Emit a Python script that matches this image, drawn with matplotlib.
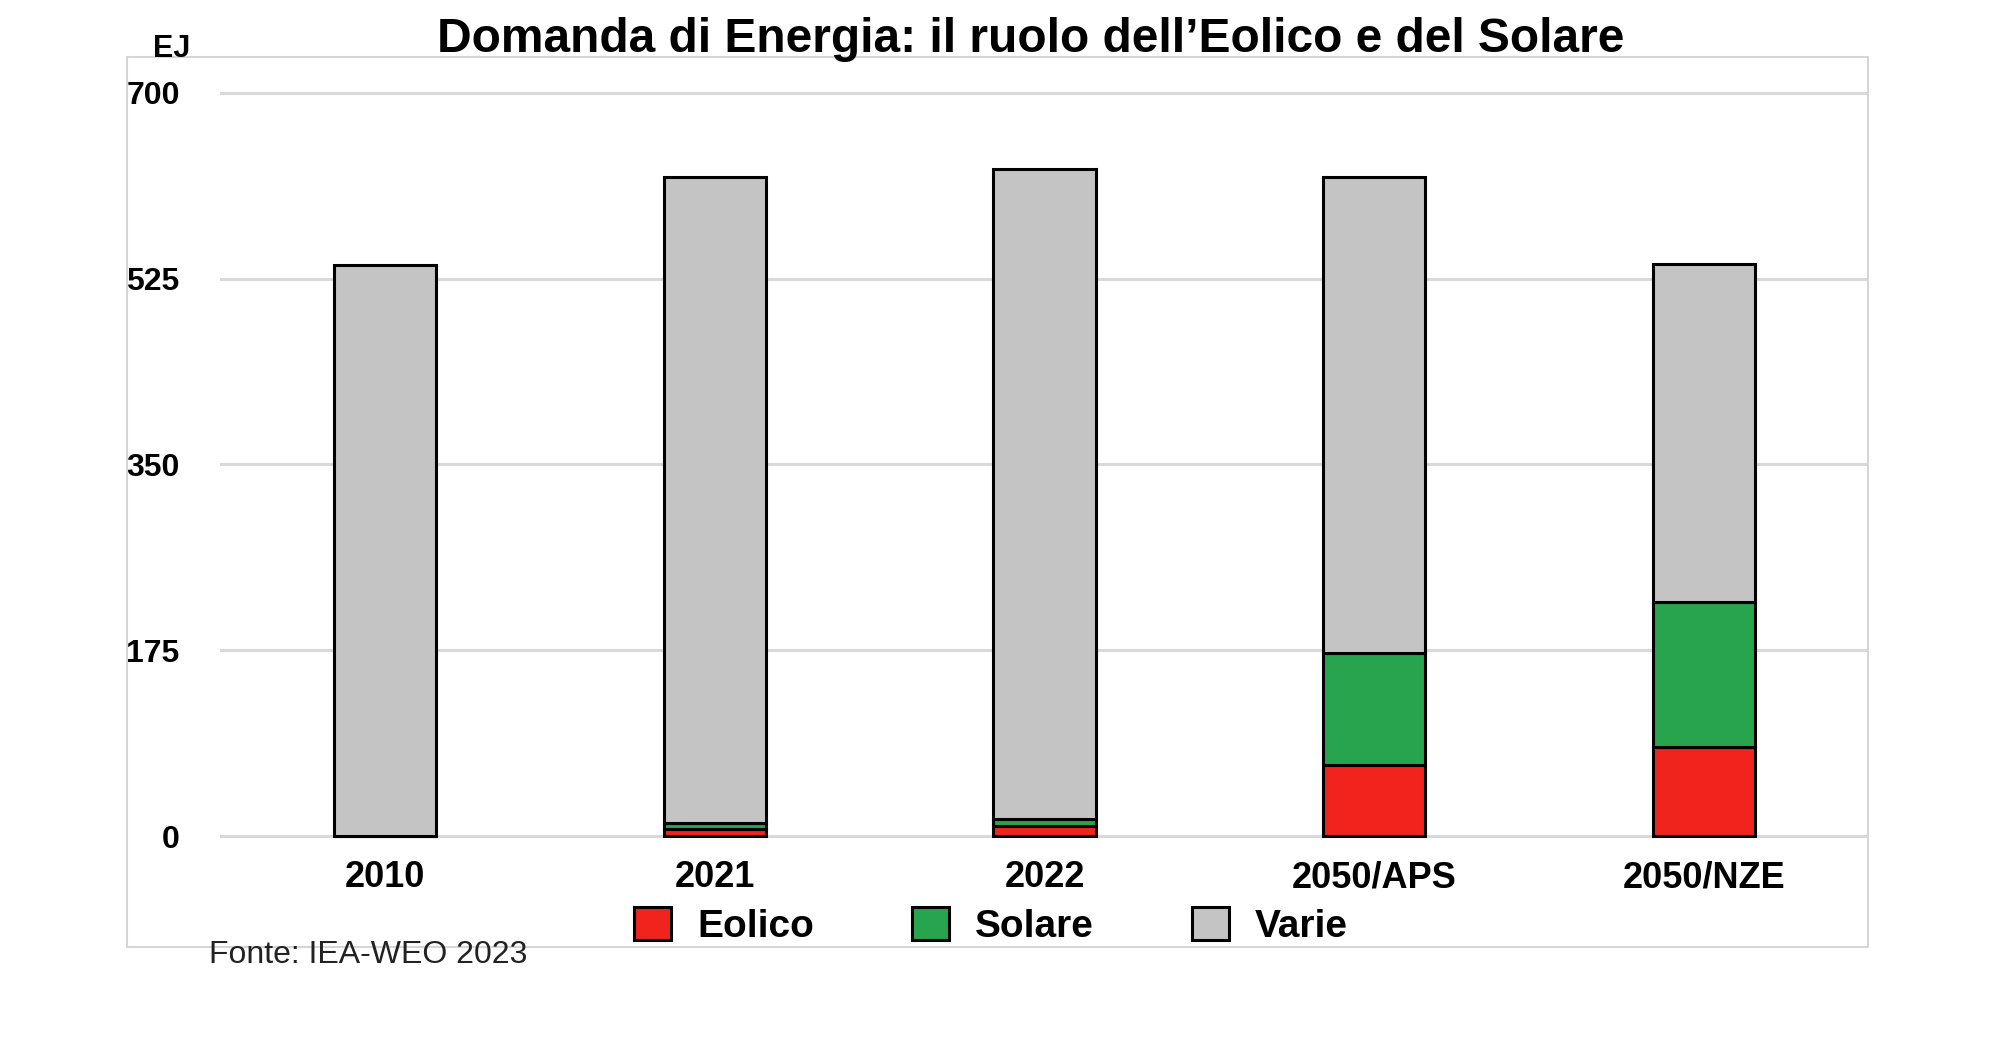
import matplotlib
matplotlib.use("Agg")
import matplotlib.pyplot as plt
from matplotlib.patches import Rectangle
import numpy as np

plt.rcParams['font.family'] = ['Liberation Sans', 'DejaVu Sans']

categories = ['2010', '2021', '2022', '2050/APS', '2050/NZE']
eolico = [0, 7, 9, 67, 84]
solare = [0, 5, 7, 105, 136]
varie = [538, 609, 612, 449, 319]
yticks = [0, 175, 350, 525, 700]

title = 'Domanda di Energia: il ruolo dell\u2019Eolico e del Solare'
unit = 'EJ'
source = 'Fonte: IEA-WEO 2023'

c_eolico = '#F1231D'
c_solare = '#28A44F'
c_varie = '#C4C4C4'

W, H = 1990, 1046
fig = plt.figure(figsize=(W / 100, H / 100), dpi=100)

# outer light frame
fig.patches.append(Rectangle((127 / W, 1 - 947 / H), (1868 - 127) / W, (947 - 57) / H,
                             transform=fig.transFigure, fill=False,
                             edgecolor='#d6d6d6', linewidth=1.5, zorder=0))

ax = fig.add_axes([220 / W, (H - 839.2) / H, 1649 / W, (839.2 - 89.8) / H])
ax.set_facecolor('none')

x = np.arange(len(categories))
bw = 0.31
e = np.array(eolico)
s = np.array(solare)
v = np.array(varie)
lw = 2.2
ax.bar(x, e, bw, color=c_eolico, edgecolor='black', linewidth=lw, label='Eolico', zorder=3)
ax.bar(x, s, bw, bottom=e, color=c_solare, edgecolor='black', linewidth=lw, label='Solare', zorder=3)
ax.bar(x, v, bw, bottom=e + s, color=c_varie, edgecolor='black', linewidth=lw, label='Varie', zorder=3)

ax.set_xlim(-0.5, 4.5)
ax.set_ylim(-3, 703)
ax.set_yticks(yticks)
ax.set_yticklabels([str(t) for t in yticks], fontsize=23, fontweight='bold')
ax.set_xticks(x)
ax.set_xticklabels(categories, fontsize=26, fontweight='bold')
ax.tick_params(axis='y', length=0, pad=29)
ax.tick_params(axis='x', length=0, pad=15)
ax.yaxis.grid(True, color='#d9d9d9', linewidth=2.2, zorder=0)
ax.set_axisbelow(True)
for sp in ax.spines.values():
    sp.set_visible(False)

fig.text(1031 / W, 1 - 52 / H, title, ha='center', va='baseline',
         fontsize=34.5, fontweight='bold', color='black')
fig.text(172 / W, 1 - 57 / H, unit, ha='center', va='baseline',
         fontsize=22, fontweight='bold', color='black')
fig.text(209 / W, 1 - 963 / H, source, ha='left', va='baseline',
         fontsize=23, color='#222222')

handles, labels = ax.get_legend_handles_labels()
leg = fig.legend(handles, labels, loc='center left',
                 bbox_to_anchor=(634 / W, 1 - 926 / H), ncol=3, frameon=False,
                 borderpad=0, borderaxespad=0,
                 prop={'size': 28, 'weight': 'bold'},
                 handlelength=0.95, handleheight=0.93, handletextpad=0.67,
                 columnspacing=2.52)

fig.savefig('out.png', dpi=100)
